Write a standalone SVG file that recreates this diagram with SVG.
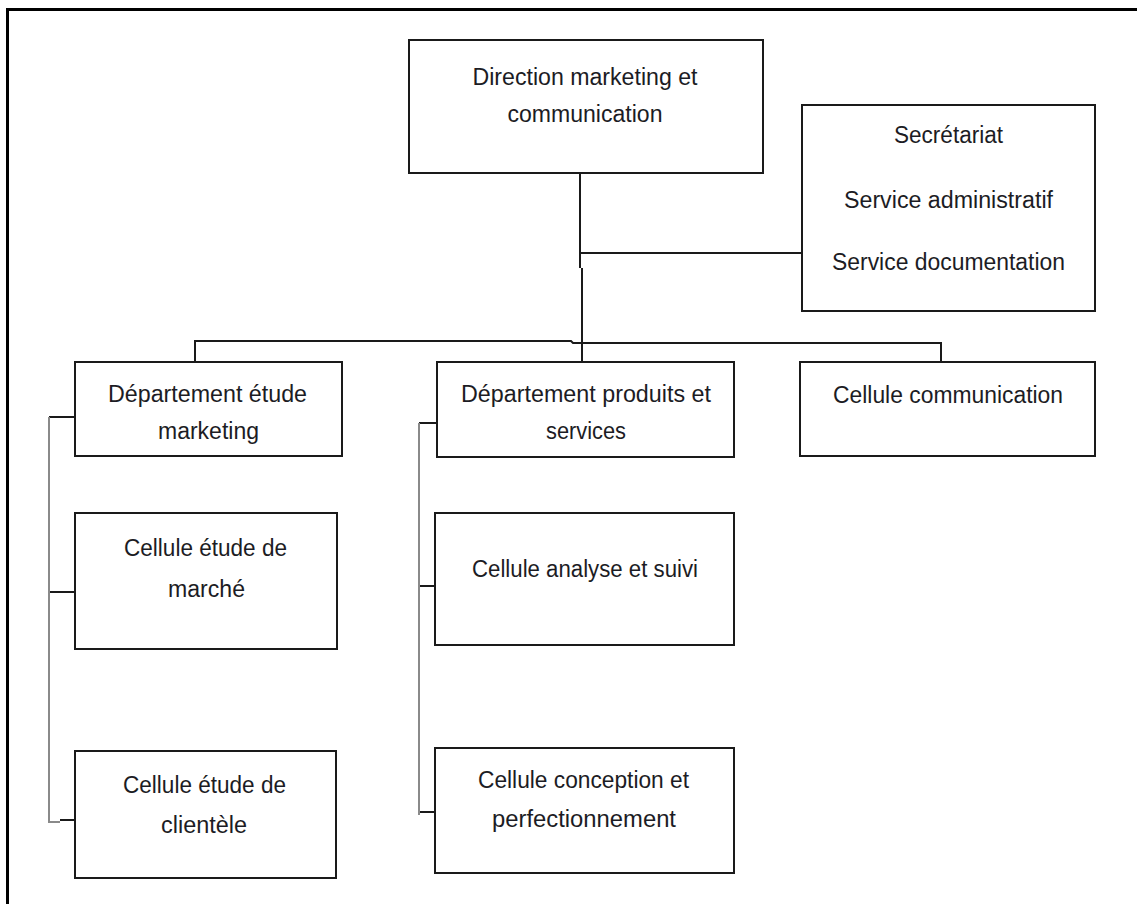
<svg xmlns="http://www.w3.org/2000/svg" width="1137" height="904" viewBox="0 0 1137 904">
<style>
.box{fill:#fff;stroke:#1a1a1a;stroke-width:2}
.t{font-family:"Liberation Sans",Arial,sans-serif;font-size:23px;fill:#1c1c24;text-anchor:middle}
.c{fill:none;stroke:#1a1a1a;stroke-width:2}
.g{fill:none;stroke:#8a8a8a;stroke-width:2}
</style>
<rect width="1137" height="904" fill="#fff"/>
<path d="M7.5 904 V9.5 H1137" fill="none" stroke="#000" stroke-width="3"/>
<g id="connectors">
<path class="c" d="M580 173 V268 M582 268 V362"/>
<path class="c" d="M580 253 H802"/>
<path class="c" d="M195 362 V341 H571 L573 343 H941 V362"/>
<path class="c" d="M49 417 H75 M49 592 H75 M60 820 H75"/>
<path class="g" d="M49 417 V822 H60"/>
<path class="c" d="M419 423 H437 M419 586 H435 M419 812 H435"/>
<path class="g" d="M419 423 V815"/>
</g>
<g id="direction"><rect class="box" x="409" y="40" width="354" height="133"/>
<text class="t" x="585" y="85" textLength="225" lengthAdjust="spacingAndGlyphs">Direction marketing et</text>
<text class="t" x="585" y="122" textLength="155" lengthAdjust="spacingAndGlyphs">communication</text></g>
<g id="secretariat"><rect class="box" x="802" y="105" width="293" height="206"/>
<text class="t" x="948.5" y="143" textLength="109" lengthAdjust="spacingAndGlyphs">Secrétariat</text>
<text class="t" x="948.5" y="208" textLength="209" lengthAdjust="spacingAndGlyphs">Service administratif</text>
<text class="t" x="948.5" y="270" textLength="233" lengthAdjust="spacingAndGlyphs">Service documentation</text></g>
<g id="dept-etude"><rect class="box" x="75" y="362" width="267" height="94"/>
<text class="t" x="207.5" y="402" textLength="199" lengthAdjust="spacingAndGlyphs">Département étude</text>
<text class="t" x="208.5" y="439" textLength="101" lengthAdjust="spacingAndGlyphs">marketing</text></g>
<g id="dept-produits"><rect class="box" x="437" y="362" width="297" height="95"/>
<text class="t" x="586" y="402" textLength="250" lengthAdjust="spacingAndGlyphs">Département produits et</text>
<text class="t" x="586" y="439" textLength="80" lengthAdjust="spacingAndGlyphs">services</text></g>
<g id="cellule-communication"><rect class="box" x="800" y="362" width="295" height="94"/>
<text class="t" x="948" y="403" textLength="230" lengthAdjust="spacingAndGlyphs">Cellule communication</text></g>
<g id="cellule-marche"><rect class="box" x="75" y="513" width="262" height="136"/>
<text class="t" x="205.5" y="556" textLength="163" lengthAdjust="spacingAndGlyphs">Cellule étude de</text>
<text class="t" x="206.5" y="597" textLength="77" lengthAdjust="spacingAndGlyphs">marché</text></g>
<g id="cellule-clientele"><rect class="box" x="75" y="751" width="261" height="127"/>
<text class="t" x="204.5" y="793" textLength="163" lengthAdjust="spacingAndGlyphs">Cellule étude de</text>
<text class="t" x="204" y="833" textLength="86" lengthAdjust="spacingAndGlyphs">clientèle</text></g>
<g id="cellule-analyse"><rect class="box" x="435" y="513" width="299" height="132"/>
<text class="t" x="585" y="577" textLength="226" lengthAdjust="spacingAndGlyphs">Cellule analyse et suivi</text></g>
<g id="cellule-conception"><rect class="box" x="435" y="748" width="299" height="125"/>
<text class="t" x="583.5" y="788" textLength="211" lengthAdjust="spacingAndGlyphs">Cellule conception et</text>
<text class="t" x="584" y="827" textLength="184" lengthAdjust="spacingAndGlyphs">perfectionnement</text></g>
</svg>
